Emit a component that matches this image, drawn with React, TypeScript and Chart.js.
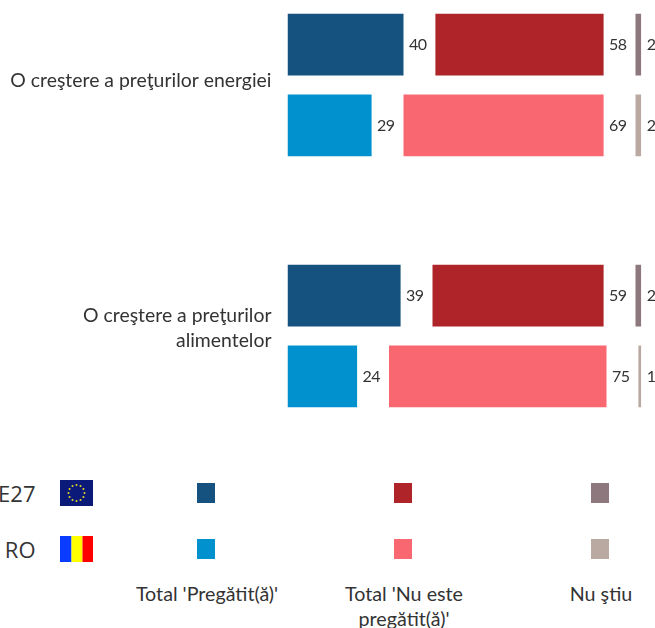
import React, { useEffect, useRef } from "react";
import { Chart, registerables } from "chart.js";

Chart.register(...registerables);

const categories: (string | string[])[] = [
  "O creştere a preţurilor energiei",
  ["O creştere a preţurilor", "alimentelor"],
];
const prepared_UE27 = [40, 39];
const notPrepared_UE27 = [58, 59];
const dontKnow_UE27 = [2, 2];
const prepared_RO = [29, 24];
const notPrepared_RO = [69, 75];
const dontKnow_RO = [2, 1];
const columnGap = [11, 11];
const labelNudge = [-4, -7.5];

const seriesLabels = ["Total 'Pregătit(ă)'", ["Total 'Nu este", "pregătit(ă)'"], "Nu ştiu"];
const countries = ["UE27", "RO"];
const colours_UE27 = ["#15527F", "#AE2429", "#8C787D"];
const colours_RO = ["#0091CE", "#F96771", "#B9A9A1"];

const FONT = 'Lato, sans-serif';
const TEXT = "#333333";

const valueLabels = {
  id: "valueLabels",
  afterDatasetsDraw(chart: any) {
    const { ctx } = chart;
    ctx.save();
    ctx.font = `16px ${FONT}`;
    ctx.letterSpacing = "-0.6px";
    ctx.fillStyle = TEXT;
    ctx.textAlign = "left";
    ctx.textBaseline = "middle";
    chart.data.datasets.forEach((ds: any, i: number) => {
      if (ds.isGap) return;
      chart.getDatasetMeta(i).data.forEach((el: any, j: number) => {
        ctx.fillText(String(ds.data[j]), el.x + 5.5, el.y);
      });
    });
    ctx.restore();
  },
};

function stack(name: string, vals: number[][], colours: string[]) {
  const out: any[] = [];
  vals.forEach((v, k) => {
    out.push({ label: `${name} ${k}`, data: v, backgroundColor: colours[k], stack: name, borderWidth: 0 });
    if (k < vals.length - 1) {
      out.push({ label: "", data: columnGap, backgroundColor: "transparent", stack: name, isGap: true });
    }
  });
  return out;
}

const box = (s: React.CSSProperties): React.CSSProperties => ({ position: "absolute", ...s });

function EUFlag({ top }: { top: number }) {
  const stars = Array.from({ length: 12 }, (_, i) => (i * Math.PI) / 6);
  return (
    <svg style={box({ left: 60, top })} width={33} height={26} viewBox="0 0 33 26">
      <rect width={33} height={26} fill="#0B1A78" />
      {stars.map((a, i) => (
        <circle key={i} cx={16.5 + 8 * Math.cos(a)} cy={13 + 8 * Math.sin(a)} r={1} fill="#E8D820" />
      ))}
    </svg>
  );
}

function ROFlag({ top }: { top: number }) {
  return (
    <svg style={box({ left: 60, top })} width={33} height={26} viewBox="0 0 33 26">
      <rect x={0} width={11.5} height={26} fill="#0A3CFF" />
      <rect x={11.5} width={11} height={26} fill="#FFFF00" />
      <rect x={22.5} width={10.5} height={26} fill="#FF0000" />
    </svg>
  );
}

export default function App() {
  const ref = useRef<HTMLCanvasElement>(null);
  useEffect(() => {
    const chart = new Chart(ref.current!, {
      type: "bar",
      data: {
        labels: categories as any,
        datasets: [
          ...stack("UE27", [prepared_UE27, notPrepared_UE27, dontKnow_UE27], colours_UE27),
          ...stack("RO", [prepared_RO, notPrepared_RO, dontKnow_RO], colours_RO),
        ],
      },
      options: {
        indexAxis: "y",
        responsive: false,
        animation: false,
        categoryPercentage: 0.653,
        barPercentage: 0.765,
        layout: { padding: { top: 0.5, bottom: 1.5, left: 0, right: 13.7 } },
        plugins: { legend: { display: false }, tooltip: { enabled: false } },
        scales: {
          x: { stacked: true, display: false, min: 0, max: 122 },
          y: {
            stacked: true,
            afterFit: (s: any) => {
              s.width = 287.5;
              s.paddingTop = 0;
              s.paddingBottom = 0;
            },
            afterUpdate: (s: any) => {
              const base = Object.getPrototypeOf(s).getPixelForTick;
              s.getPixelForTick = (i: number) => base.call(s, i) + labelNudge[i];
            },
            grid: { display: false },
            border: { display: false },
            ticks: {
              color: TEXT,
              padding: 8,
              font: { family: FONT, size: 19.4, lineHeight: 1.29 },
            },
          },
        },
      } as any,
      plugins: [valueLabels],
    });
    return () => chart.destroy();
  }, []);

  const legendX = [197, 394, 591];
  const labelX = [207, 404, 601];
  const rowTop = [483, 539];
  const labelStyle: React.CSSProperties = {
    fontFamily: FONT,
    fontSize: 19.7,
    lineHeight: "25px",
    color: TEXT,
    textAlign: "center",
    whiteSpace: "nowrap",
  };

  return (
    <div style={box({ left: 0, top: 0, width: 655, height: 628, overflow: "hidden", background: "#fff" })}>
      <canvas ref={ref} width={655} height={504} style={box({ left: 0, top: -41, width: 655, height: 504 })} />
      {countries.map((c, r) => (
        <div
          key={c}
          style={box({
            right: 619.5,
            top: rowTop[r] - 6,
            fontFamily: '"Open Sans", sans-serif',
            fontSize: 22,
            lineHeight: "32px",
            color: TEXT,
            whiteSpace: "nowrap",
          })}
        >
          {c}
        </div>
      ))}
      <EUFlag top={480} />
      <ROFlag top={536} />
      {[colours_UE27, colours_RO].map((cols, r) =>
        cols.map((col, k) => (
          <div key={`${r}-${k}`} style={box({ left: legendX[k], top: rowTop[r], width: 18, height: 19.5, background: col })} />
        ))
      )}
      {seriesLabels.map((l, k) => (
        <div key={k} style={box({ left: labelX[k] - 120, width: 240, top: 581, ...labelStyle })}>
          {Array.isArray(l) ? l.map((t) => <div key={t}>{t}</div>) : l}
        </div>
      ))}
    </div>
  );
}
